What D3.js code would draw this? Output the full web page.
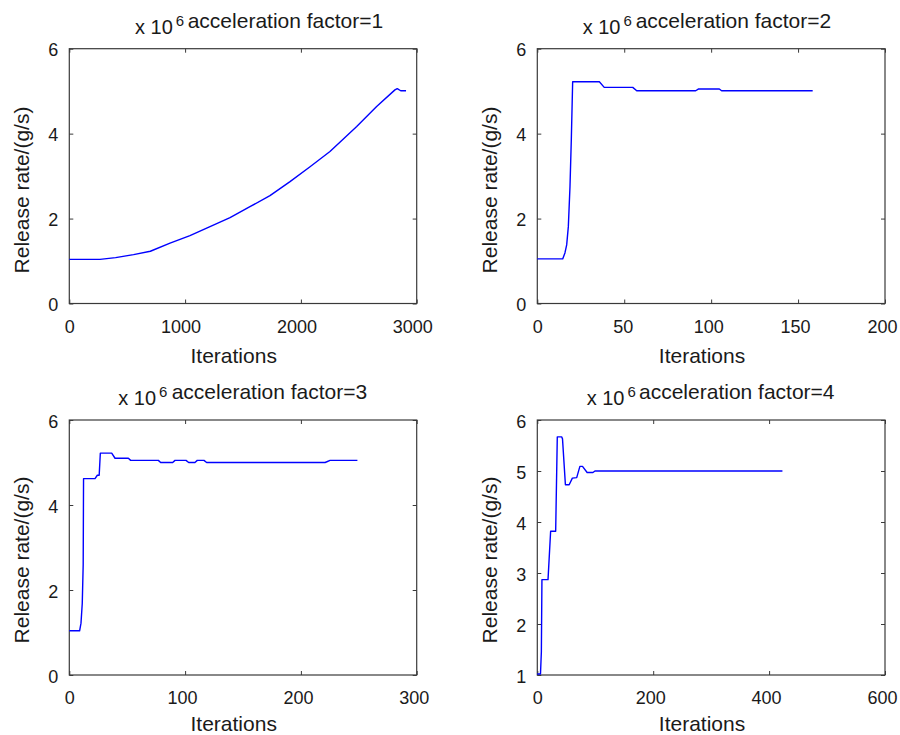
<!DOCTYPE html>
<html>
<head>
<meta charset="utf-8">
<script src="https://cdn.jsdelivr.net/npm/d3@7"></script>
<style>
  html, body { margin: 0; padding: 0; background: #fff; }
  svg { display: block; }
  text { font-family: "Liberation Sans", Arial, Helvetica, sans-serif; fill: #1a1a1a; }
</style>
</head>
<body>
<svg id="chart" width="900" height="735"></svg>
<script>
// Release rate (x 10^6 g/s) versus iteration count, one series per acceleration factor
const af1Iter = [0, 265, 400, 555, 700, 870, 1042, 1215, 1388, 1560, 1733, 1906, 2079, 2251, 2482, 2654, 2812, 2832, 2862, 2908];
const af1Rate = [1.04, 1.04, 1.08, 1.15, 1.23, 1.42, 1.60, 1.81, 2.02, 2.28, 2.54, 2.87, 3.22, 3.58, 4.17, 4.64, 5.03, 5.06, 5.01, 5.01];

const af2Iter = [0, 14.6, 15.9, 16.9, 17.85, 18.8, 19.56, 20.34, 35.7, 38.5, 54.9, 57.2, 91.1, 92.6, 104.7, 106, 158.4];
const af2Rate = [1.05, 1.05, 1.19, 1.38, 1.81, 2.75, 3.85, 5.22, 5.22, 5.09, 5.09, 5.01, 5.01, 5.05, 5.05, 5.01, 5.01];

const af3Iter = [0, 8.9, 10.1, 11.2, 12.0, 12.3, 22.2, 24.2, 25.8, 26.8, 36.6, 39.5, 51, 53, 76.9, 78.9, 89.3, 91.3, 100.8, 103.1, 108.5, 110.5, 116.3, 118.6, 220.9, 225.2, 248.8];
const af3Rate = [1.04, 1.04, 1.22, 1.69, 2.6, 4.62, 4.62, 4.7, 4.7, 5.22, 5.22, 5.1, 5.1, 5.05, 5.05, 5.0, 5.0, 5.05, 5.05, 5.0, 5.0, 5.05, 5.05, 5.0, 5.0, 5.05, 5.05];

const af4Iter = [0, 5.5, 7, 8, 18.5, 23, 31.7, 34.5, 42, 43.5, 48.5, 55, 60.5, 68, 73.5, 78, 86, 96, 99.5, 423];
const af4Rate = [1.02, 1.02, 1.45, 2.87, 2.87, 3.82, 3.82, 5.67, 5.67, 5.63, 4.73, 4.73, 4.86, 4.87, 5.09, 5.09, 4.97, 4.97, 5.0, 5.0];

// Tick values per panel
const af1XTicks = [0, 1000, 2000, 3000];
const af2XTicks = [0, 50, 100, 150, 200];
const af3XTicks = [0, 100, 200, 300];
const af4XTicks = [0, 200, 400, 600];
const yTicks0to6 = [0, 2, 4, 6];
const yTicks1to6 = [1, 2, 3, 4, 5, 6];

const factors = [1, 2, 3, 4];
const xLabel = "Iterations";
const yLabel = "Release rate/(g/s)";

// Panel geometry
const panels = [
  { iter: af1Iter, rate: af1Rate, xDomain: [0, 3000], yDomain: [0, 6], xTicks: af1XTicks, yTicks: yTicks0to6,
    box: [69.3, 416.7, 48.7, 303.5], titleX: 187.7, titleY: 28, expX: 135, expY: 34, xlabX: 233.7, xlabY: 362.5, ylabX: 28.5, ylabY: 190 },
  { iter: af2Iter, rate: af2Rate, xDomain: [0, 200], yDomain: [0, 6], xTicks: af2XTicks, yTicks: yTicks0to6,
    box: [537.3, 885, 48.7, 303.5], titleX: 635.7, titleY: 28, expX: 582.7, expY: 34, xlabX: 702, xlabY: 362.5, ylabX: 496.7, ylabY: 190 },
  { iter: af3Iter, rate: af3Rate, xDomain: [0, 300], yDomain: [0, 6], xTicks: af3XTicks, yTicks: yTicks0to6,
    box: [69.3, 416.7, 420, 675], titleX: 171.7, titleY: 398.5, expX: 118.3, expY: 404.5, xlabX: 233.7, xlabY: 731, ylabX: 28.5, ylabY: 560 },
  { iter: af4Iter, rate: af4Rate, xDomain: [0, 600], yDomain: [1, 6], xTicks: af4XTicks, yTicks: yTicks1to6,
    box: [537.3, 885, 420, 675], titleX: 639, titleY: 398.5, expX: 586.7, expY: 404.5, xlabX: 702, xlabY: 731, ylabX: 496.7, ylabY: 560 }
];

const svg = d3.select("#chart");
const axisColor = "#3a3a3a";
const tickLen = 4;

panels.forEach((p, i) => {
  const [x0, x1, y0, y1] = p.box;
  const x = d3.scaleLinear().domain(p.xDomain).range([x0, x1]);
  const y = d3.scaleLinear().domain(p.yDomain).range([y1, y0]);
  const g = svg.append("g");

  // frame
  g.append("rect")
    .attr("x", x0).attr("y", y0)
    .attr("width", x1 - x0).attr("height", y1 - y0)
    .attr("fill", "none").attr("stroke", axisColor).attr("stroke-width", 1.2);

  // inward ticks on all four sides
  const styleAxis = sel => {
    sel.select(".domain").remove();
    sel.selectAll(".tick line").attr("stroke", axisColor).attr("stroke-width", 1);
  };

  const bottom = g.append("g").attr("transform", `translate(0,${y1})`)
    .call(d3.axisBottom(x).tickValues(p.xTicks).tickSizeInner(-tickLen).tickSizeOuter(0).tickPadding(0).tickFormat(d3.format("d")));
  styleAxis(bottom);
  bottom.selectAll(".tick text")
    .attr("font-size", 18).attr("fill", "#1a1a1a")
    .attr("y", 29).attr("dy", 0)
    .attr("dx", function() { return -1.5 * (this.textContent.length - 1); });

  const top = g.append("g").attr("transform", `translate(0,${y0})`)
    .call(d3.axisTop(x).tickValues(p.xTicks).tickSizeInner(-tickLen).tickSizeOuter(0).tickFormat(""));
  styleAxis(top);

  const left = g.append("g").attr("transform", `translate(${x0},0)`)
    .call(d3.axisLeft(y).tickValues(p.yTicks).tickSizeInner(-tickLen).tickSizeOuter(0).tickPadding(0).tickFormat(d3.format("d")));
  styleAxis(left);
  left.selectAll(".tick text")
    .attr("font-size", 18).attr("fill", "#1a1a1a")
    .attr("x", -11).attr("dy", "0.40em");

  const right = g.append("g").attr("transform", `translate(${x1},0)`)
    .call(d3.axisRight(y).tickValues(p.yTicks).tickSizeInner(-tickLen).tickSizeOuter(0).tickFormat(""));
  styleAxis(right);

  // series
  const pts = p.iter.map((v, k) => [v, p.rate[k]]);
  g.append("path")
    .datum(pts)
    .attr("fill", "none")
    .attr("stroke", "#0000ff")
    .attr("stroke-width", 1.4)
    .attr("stroke-linejoin", "round")
    .attr("d", d3.line().x(d => x(d[0])).y(d => y(d[1])));

  // exponent marker and title
  const exp = g.append("text")
    .attr("x", p.expX).attr("y", p.expY)
    .attr("font-size", 20);
  exp.append("tspan").text("x 10");
  exp.append("tspan").attr("font-size", 15).attr("dy", -8).attr("dx", 3).text("6");

  g.append("text")
    .attr("x", p.titleX).attr("y", p.titleY)
    .attr("font-size", 21)
    .text(`acceleration factor=${factors[i]}`);

  // axis labels
  g.append("text")
    .attr("x", p.xlabX).attr("y", p.xlabY)
    .attr("text-anchor", "middle")
    .attr("font-size", 21)
    .text(xLabel);

  g.append("text")
    .attr("transform", `translate(${p.ylabX},${p.ylabY}) rotate(-90)`)
    .attr("text-anchor", "middle")
    .attr("font-size", 21)
    .text(yLabel);
});
</script>
</body>
</html>
